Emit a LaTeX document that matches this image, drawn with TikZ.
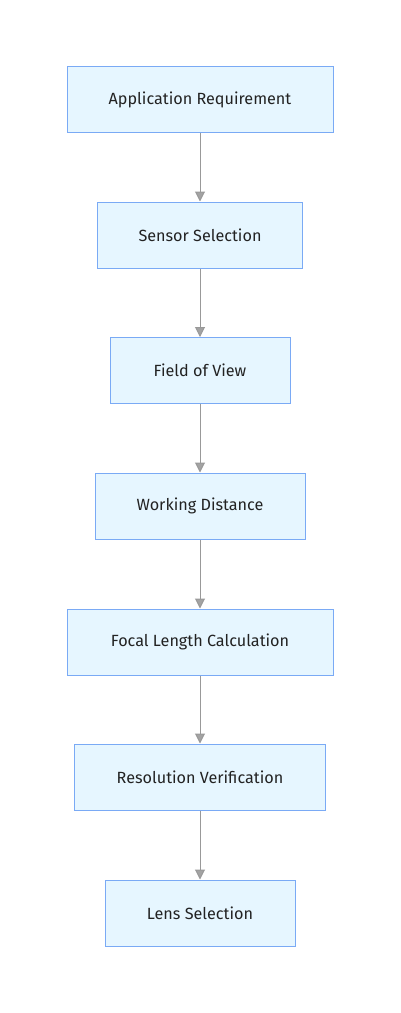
\documentclass[tikz,border=0pt]{standalone}
\usepackage{fontspec}
\setmainfont{Fira Sans}
\usetikzlibrary{arrows.meta}
\definecolor{boxfill}{HTML}{E6F6FF}
\definecolor{boxdraw}{HTML}{7AAAF5}
\definecolor{edgecol}{HTML}{999999}
\definecolor{txtcol}{HTML}{222222}
\tikzset{
  stepbox/.style={draw=boxdraw, fill=boxfill, line width=1pt, minimum height=66pt, inner sep=0pt, text=txtcol, font=\fontsize{16.2}{19}\selectfont},
  flow/.style={draw=edgecol, line width=1pt, -{Triangle[open, fill=edgecol!90, length=10pt, width=10pt]}}
}
\begin{document}
\begin{tikzpicture}[x=1pt,y=-1pt]
\useasboundingbox (0,0) rectangle (400,1013);
\node[stepbox, minimum width=266pt] (a) at (200,99.5) {Application Requirement};
\node[stepbox, minimum width=205pt] (b) at (200,235) {Sensor Selection};
\node[stepbox, minimum width=180pt] (c) at (200,370.5) {Field of View};
\node[stepbox, minimum width=210pt] (d) at (200,506) {Working Distance};
\node[stepbox, minimum width=266pt] (e) at (200,642) {Focal Length Calculation};
\node[stepbox, minimum width=251pt] (f) at (200,777) {Resolution Verification};
\node[stepbox, minimum width=190pt] (g) at (200,913) {Lens Selection};
\draw[flow] (a) -- (b);
\draw[flow] (b) -- (c);
\draw[flow] (c) -- (d);
\draw[flow] (d) -- (e);
\draw[flow] (e) -- (f);
\draw[flow] (f) -- (g);
\end{tikzpicture}
\end{document}
